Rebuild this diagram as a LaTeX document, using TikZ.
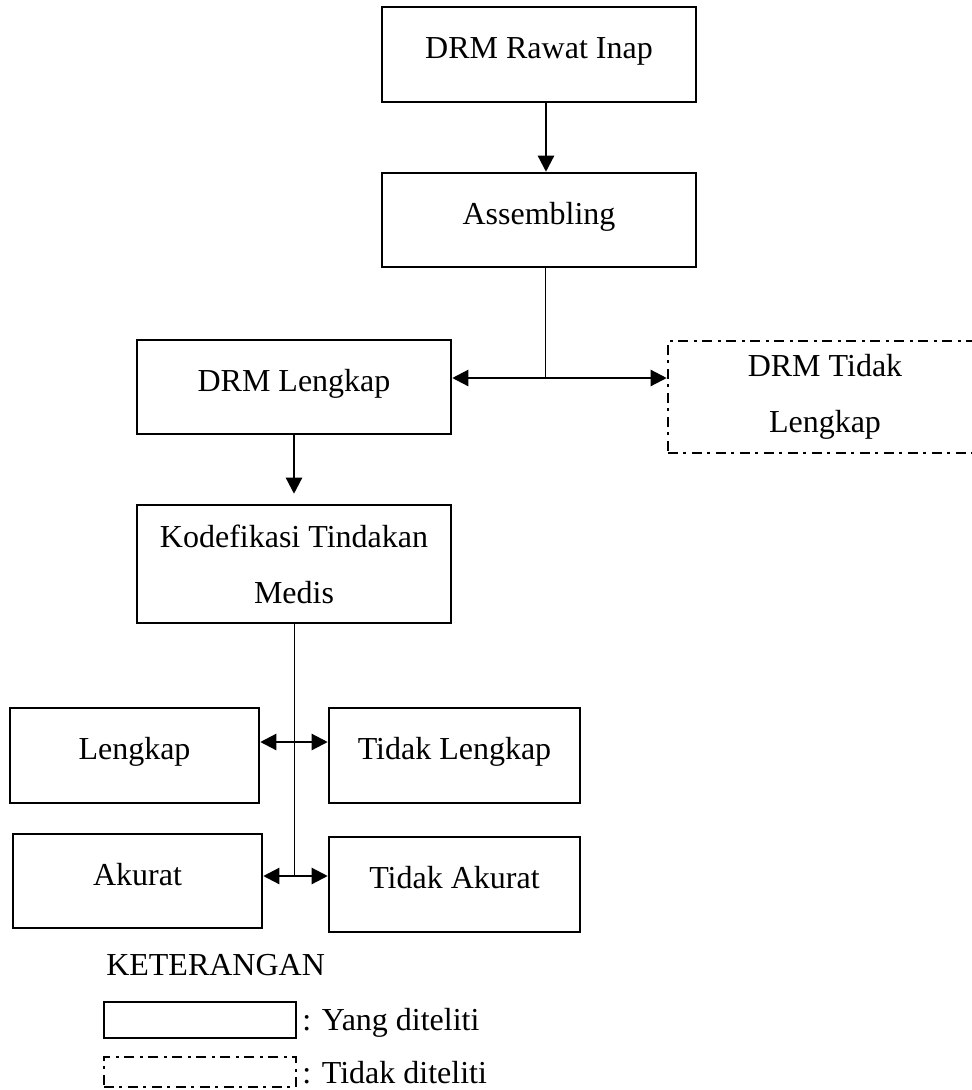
\documentclass[tikz,border=0pt]{standalone}
\usepackage{fontspec}
\setmainfont{Liberation Serif}
\usetikzlibrary{arrows.meta}
\begin{document}
\begin{tikzpicture}[x=0.75pt,y=-0.75pt,
  every node/.style={font=\fontsize{24}{42}\selectfont},
  box/.style={draw, line width=1.9pt, inner sep=0pt, align=center},
  dbox/.style={box, dash pattern=on 7.5pt off 3.75pt on 2.25pt off 4.5pt},
  sz/.style 2 args={minimum width=#1*0.75pt, minimum height=#2*0.75pt},
  one/.style={text height=12pt, text depth=6pt},
  arr/.style={line width=1.7pt, -{Triangle[length=12pt,width=12pt]}},
  thinline/.style={line width=0.6pt},
  lbl/.style={anchor=base west, inner sep=0pt}]
\useasboundingbox (0,0) rectangle (972,1090);
\clip (0,0) rectangle (972,1090);

\node[box,one,sz={314}{95}] (rawat) at (539,54.5) {DRM Rawat Inap};
\node[box,one,sz={314}{94}] (assem) at (539,220) {Assembling};
\node[box,one,sz={314}{94}] (drml) at (294,387) {DRM Lengkap};
\node[dbox,sz={314}{112}] (drmtl) at (825,397) {DRM Tidak\\Lengkap};
\node[box,sz={314}{118}] (kode) at (294,564) {Kodefikasi Tindakan\\Medis};
\node[box,one,sz={249}{95}] (leng) at (134.5,755.5) {Lengkap};
\node[box,one,sz={251}{95}] (tleng) at (454.5,755.5) {Tidak Lengkap};
\node[box,one,sz={249}{94}] (akur) at (137.5,881) {Akurat};
\node[box,one,sz={251}{95}] (takur) at (454.5,884.5) {Tidak Akurat};

\draw[arr] ([xshift=5.25pt]rawat.south) -- ([xshift=5.25pt]assem.north);
\coordinate (j1) at (545,378);
\draw[thinline] (assem.south -| j1) -- (j1);
\draw[arr] (j1) -- (drml.east |- j1);
\draw[arr] (j1) -- (drmtl.west |- j1);
\draw[arr, shorten >=7.5pt] (drml.south) -- (kode.north);
\coordinate (j2) at (294,742);
\coordinate (j3) at (294,876);
\draw[thinline] (kode.south) -- (j3);
\draw[arr] (j2) -- (leng.east |- j2);
\draw[arr] (j2) -- (tleng.west |- j2);
\draw[arr] (j3) -- (akur.east |- j3);
\draw[arr] (j3) -- (takur.west |- j3);

\node[lbl] (ket) at (106,975) {KETERANGAN};
\node[box,sz={192}{36}] (lg1) at (200,1020) {};
\node[dbox,sz={192}{30}] (lg2) at (200,1072) {};
\node[lbl] (t1) at (302,1030) {: Yang diteliti};
\node[lbl] (t2) at (302,1083) {: Tidak diteliti};
\end{tikzpicture}
\end{document}
